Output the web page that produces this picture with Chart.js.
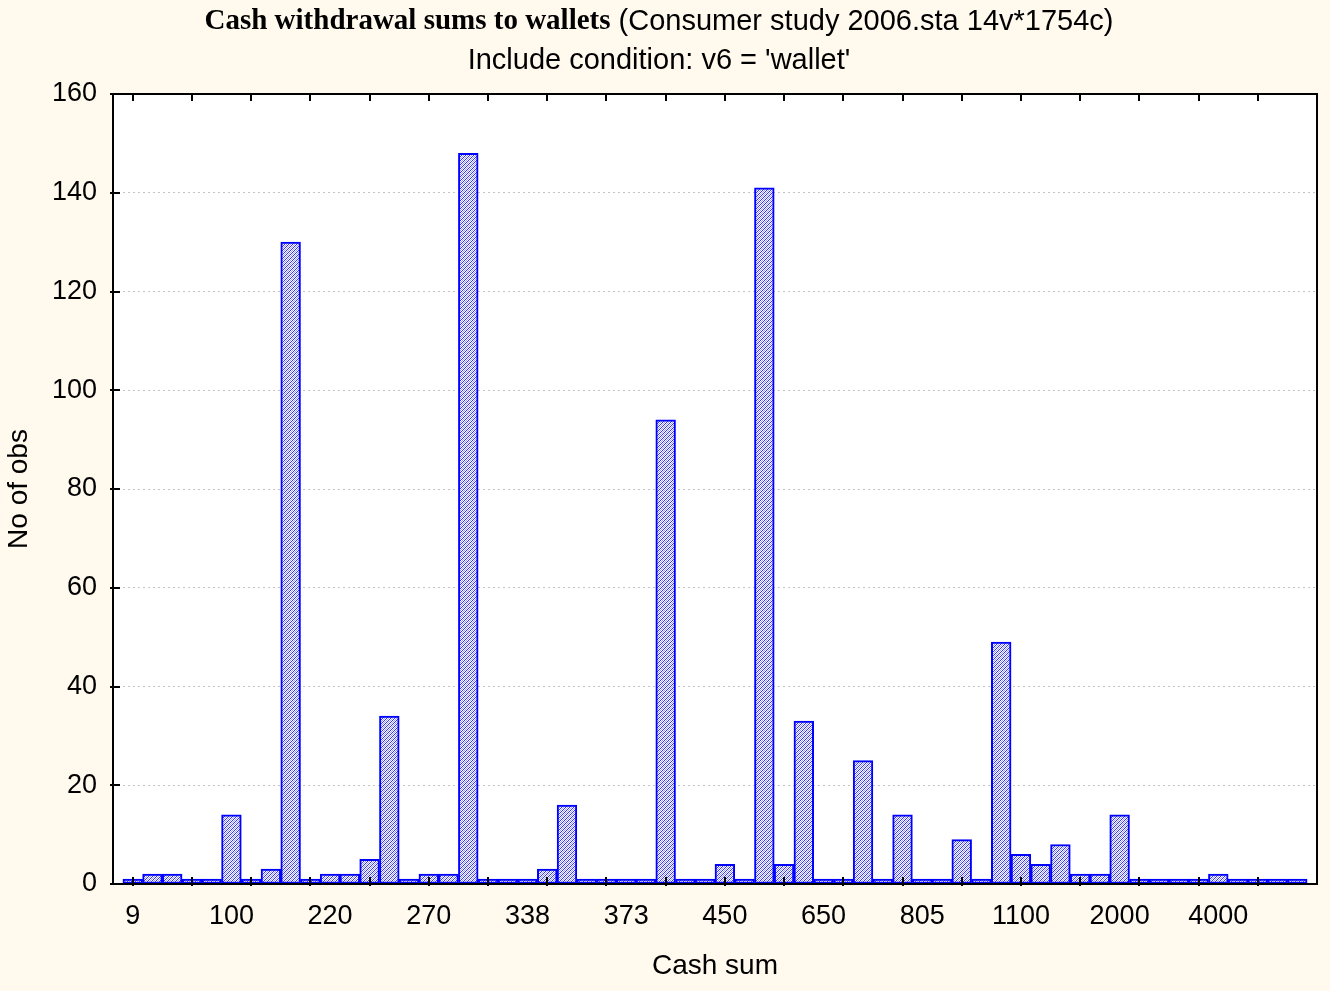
<!DOCTYPE html>
<html>
<head>
<meta charset="utf-8">
<title>Cash withdrawal sums to wallets</title>
<script src="https://cdn.jsdelivr.net/npm/chart.js@4.4.0/dist/chart.umd.min.js"></script>
<style>
  html, body { margin: 0; padding: 0; background: #fff9ee; }
  #wrap { width: 1330px; height: 991px; }
</style>
</head>
<body>
<div id="wrap"><canvas id="histChart" width="1330" height="991"></canvas></div>
<script>
// titles
const titleBold = 'Cash withdrawal sums to wallets';
const titleRest = ' (Consumer study 2006.sta 14v*1754c)';
const subTitle = "Include condition: v6 = 'wallet'";
const xTitle = 'Cash sum';
const yTitle = 'No of obs';

// one label for every 5th bin, starting with the first one
const xTickLabels = ['9', '100', '220', '270', '338', '373', '450', '650', '805', '1100', '2000', '4000'];

// counts per bin (60 bins)
const counts = [
  1, 2, 2, 1, 1,   14, 1, 3, 130, 1,
  2, 2, 5, 34, 1,  2, 2, 148, 1, 1,
  1, 3, 16, 1, 1,  1, 1, 94, 1, 1,
  4, 1, 141, 4, 33, 1, 1, 25, 1, 14,
  1, 1, 9, 1, 49,  6, 4, 8, 2, 2,
  14, 1, 1, 1, 1,  2, 1, 1, 1, 1
];

const sans = '"Liberation Sans", Arial, sans-serif';
const serif = '"Liberation Serif", "Times New Roman", serif';

const canvas = document.getElementById('histChart');
const ctx = canvas.getContext('2d');

// fine dithered hatch like the statistica pattern
function makeHatch() {
  const tile = document.createElement('canvas');
  tile.width = 4;
  tile.height = 4;
  const t = tile.getContext('2d');
  for (let y = 0; y < 4; y++) {
    for (let x = 0; x < 4; x++) {
      const k = (x + y) % 4;
      t.fillStyle = k === 0 ? '#3030ff' : (k === 2 ? '#9c9cff' : '#ffffff');
      t.fillRect(x, y, 1, 1);
    }
  }
  return ctx.createPattern(tile, 'repeat');
}

const framePlugin = {
  id: 'frame',
  beforeDraw(chart) {
    const c = chart.ctx;
    const a = chart.chartArea;
    c.save();
    c.fillStyle = '#fff9ee';
    c.fillRect(0, 0, chart.width, chart.height);
    c.fillStyle = '#ffffff';
    c.fillRect(a.left, a.top, a.right - a.left, a.bottom - a.top);
    c.restore();
  },
  afterDraw(chart) {
    const c = chart.ctx;
    const a = chart.chartArea;
    const xs = chart.scales.x;
    const ys = chart.scales.y;
    c.save();
    c.strokeStyle = '#000000';
    c.lineWidth = 2;
    c.strokeRect(a.left, a.top, a.right - a.left, a.bottom - a.top);

    // small tick marks, every 3rd bin on x
    c.beginPath();
    for (let i = 0; i < counts.length; i += 3) {
      const px = Math.round(xs.getPixelForValue(i + 1));
      c.moveTo(px, a.bottom + 2);
      c.lineTo(px, a.bottom - 7);
      c.moveTo(px, a.top);
      c.lineTo(px, a.top + 7);
    }
    ys.ticks.forEach((t) => {
      const py = Math.round(ys.getPixelForValue(t.value));
      c.moveTo(a.left - 3, py);
      c.lineTo(a.left + 7, py);
    });
    c.stroke();

    // title, bold serif part + plain part
    const cx = 659;
    c.fillStyle = '#000000';
    c.textBaseline = 'middle';
    c.font = 'bold 29px ' + serif;
    const w1 = c.measureText(titleBold).width;
    c.font = '29px ' + sans;
    const w2 = c.measureText(titleRest).width;
    const x0 = cx - (w1 + w2) / 2;
    c.textAlign = 'left';
    c.font = 'bold 29px ' + serif;
    c.fillText(titleBold, x0, 22);
    c.font = '29px ' + sans;
    c.fillText(titleRest, x0 + w1, 22);
    c.textAlign = 'center';
    c.fillText(subTitle, cx, 61);
    c.restore();
  }
};

const chartInstance = new Chart(ctx, {
  type: 'bar',
  data: {
    datasets: [{
      data: counts.map((c, i) => ({ x: i + 1, y: c })),
      backgroundColor: makeHatch(),
      borderColor: '#0000ff',
      borderWidth: 2,
      borderSkipped: false,
      barPercentage: 1,
      categoryPercentage: 1,
    }],
  },
  options: {
    responsive: false,
    animation: false,
    devicePixelRatio: 1,
    layout: {
      padding: { top: 94, right: 13, bottom: 0, left: 0 },
    },
    plugins: {
      legend: { display: false },
      tooltip: { enabled: false },
    },
    scales: {
      x: {
        type: 'linear',
        min: 0,
        max: counts.length + 1,
        offset: false,
        afterBuildTicks: (scale) => {
          scale.ticks = xTickLabels.map((lbl, i) => ({ value: 1 + i * 5 }));
        },
        afterFit: (scale) => {
          scale.height = 107;
        },
        ticks: {
          autoSkip: false,
          maxRotation: 0,
          padding: 16,
          color: '#000000',
          font: { family: sans, size: 27 },
          callback: (value, index) => xTickLabels[index],
        },
        grid: { display: false, drawTicks: false },
        border: { display: false },
        title: {
          display: true,
          text: xTitle,
          color: '#000000',
          font: { family: sans, size: 28 },
          padding: { top: 0, bottom: 8 },
        },
      },
      y: {
        min: 0,
        max: 160,
        afterFit: (scale) => {
          scale.width = 113;
        },
        ticks: {
          stepSize: 20,
          padding: 16,
          color: '#000000',
          font: { family: sans, size: 27 },
        },
        grid: { color: '#c4c4c4', lineWidth: 1, drawTicks: false },
        border: { display: false, dash: [2, 3] },
        title: {
          display: true,
          text: yTitle,
          color: '#000000',
          font: { family: sans, size: 28 },
          padding: { top: 2, bottom: 0 },
        },
      },
    },
  },
  plugins: [framePlugin],
});
</script>
</body>
</html>
